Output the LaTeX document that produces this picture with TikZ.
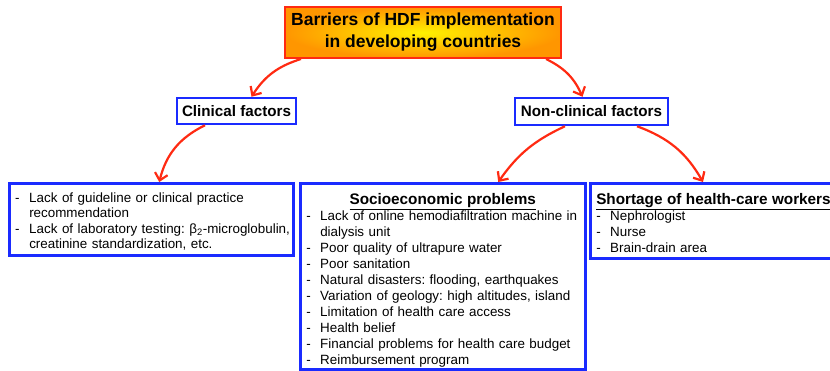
\documentclass[tikz,border=0pt]{standalone}
\usepackage{fontspec}
\setmainfont{Liberation Sans}
\usepackage{tikz}
\usetikzlibrary{arrows.meta}
\definecolor{HdfRed}{HTML}{FF2A12}
\definecolor{HdfBlue}{HTML}{1A2BFF}
\definecolor{HdfOrange}{HTML}{FF9600}
\definecolor{HdfYellow}{HTML}{FFF200}
\frenchspacing
% one dash item per line, and a line that carries on an item
\newcommand{\dashitem}[1]{\makebox[14pt][l]{-}\mbox{#1}}
\newcommand{\dashmore}[1]{\hspace*{14pt}\mbox{#1}}
\begin{document}
\begin{tikzpicture}[
        x=1pt,y=-1pt,
        title/.style={rectangle,draw=HdfRed,line width=2pt,shading=radial,
          inner color=HdfYellow,outer color=HdfOrange,align=center,inner sep=0pt,
          minimum width=276pt,minimum height=51pt,font=\fontsize{17.5}{22}\selectfont\bfseries},
        factor/.style={rectangle,draw=HdfBlue,line width=2.5pt,fill=white,inner sep=0pt,
          font=\fontsize{15.2}{18}\selectfont\bfseries},
        listbox/.style={rectangle,draw=HdfBlue,line width=2.5pt,align=left,anchor=north west,
          inner xsep=6pt,inner ysep=0pt,font=\fontsize{13.4}{16}\selectfont},
        arrow/.style={-{Straight Barb[length=7pt,width=13pt]},line width=2.2pt,draw=HdfRed}
      ]
        \useasboundingbox (0,0) rectangle (830,370);
        \clip (0,0) rectangle (830,370);
        \node[title] (barrier) at (423,32.5) {Barriers of HDF implementation\\in developing countries};
        \node[factor,minimum width=119pt,minimum height=26pt] (clinical) at (236.5,111) {Clinical factors};
        \node[factor,minimum width=153pt,minimum height=27pt] (nonclinical) at (591.5,111.5) {Non-clinical factors};
        \node[listbox,minimum width=284pt,minimum height=72pt,text width=272pt,
          font=\fontsize{13.4}{15.4}\selectfont] (clinbox) at (8,182) {%
          \rule{0pt}{14pt}\dashitem{Lack of guideline or clinical practice}\\
          \dashmore{recommendation}\\
          \dashitem{Lack of laboratory testing: β\textsubscript{2}-microglobulin,}\\
          \dashmore{creatinine standardization, etc.}};
        \node[listbox,minimum width=285pt,minimum height=186pt,text width=273pt] (socio) at (299,182) {%
          \rule{0pt}{20pt}\makebox[273pt][c]{\fontsize{15.3}{16}\selectfont\bfseries\underline{Socioeconomic problems}}\\[0pt]
          \dashitem{Lack of online hemodiafiltration machine in}\\
          \dashmore{dialysis unit}\\
          \dashitem{Poor quality of ultrapure water}\\
          \dashitem{Poor sanitation}\\
          \dashitem{Natural disasters: flooding, earthquakes}\\
          \dashitem{Variation of geology: high altitudes, island}\\
          \dashitem{Limitation of health care access}\\
          \dashitem{Health belief}\\
          \dashitem{Financial problems for health care budget}\\
          \dashitem{Reimbursement program}};
        \node[listbox,minimum width=256pt,minimum height=75pt,text width=244pt] (workers) at (589,182) {%
          \rule{0pt}{15pt}\mbox{\fontsize{15.3}{16}\selectfont\bfseries\underline{Shortage of health-care workers}}\\[0pt]
          \dashitem{Nephrologist}\\
          \dashitem{Nurse}\\
          \dashitem{Brain-drain area}};
        \draw[arrow] ([xshift=17pt]barrier.south west) to[bend right=20] ([xshift=15pt]clinical.north);
        \draw[arrow] ([xshift=-16pt]barrier.south east) to[bend left=20] ([xshift=-9pt]nonclinical.north);
        \draw[arrow] ([xshift=-31.5pt]clinical.south) to[bend right=25] ([xshift=8pt]clinbox.north);
        \draw[arrow] ([xshift=-26.5pt]nonclinical.south) to[bend right=15] ([xshift=55.5pt]socio.north);
        \draw[arrow] ([xshift=45.5pt]nonclinical.south) to[bend left=20] ([xshift=114pt]workers.north west);
      \end{tikzpicture}
\end{document}
